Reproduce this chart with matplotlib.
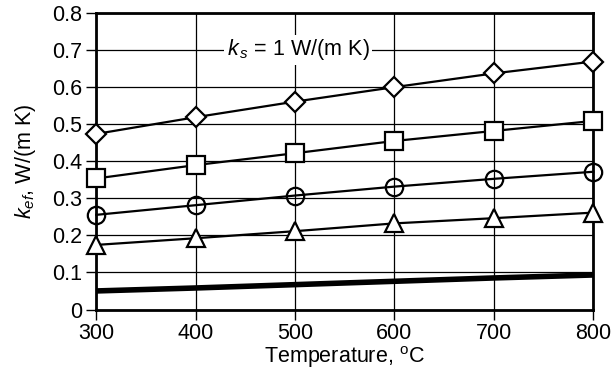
import matplotlib
matplotlib.use("Agg")
import matplotlib.pyplot as plt

plt.rcParams['font.family'] = ['Liberation Sans', 'DejaVu Sans']
plt.rcParams['mathtext.fontset'] = 'custom'
plt.rcParams['mathtext.rm'] = 'Liberation Sans'
plt.rcParams['mathtext.it'] = 'Liberation Sans:italic'

# Datos
temperatura = [300, 400, 500, 600, 700, 800]
k_rombos = [0.473, 0.518, 0.560, 0.599, 0.636, 0.668]
k_cuadrados = [0.353, 0.389, 0.421, 0.454, 0.481, 0.508]
k_circulos = [0.255, 0.281, 0.307, 0.331, 0.352, 0.371]
k_triangulos = [0.174, 0.192, 0.211, 0.232, 0.246, 0.261]
k_grueso = [0.050, 0.058, 0.067, 0.076, 0.085, 0.093]

fig = plt.figure(figsize=(6.11, 3.80), dpi=100)
ax = fig.add_axes([0.1576, 0.1855, 0.8134, 0.7816])

estilo = dict(color='black', lw=1.6, markeredgecolor='black', markeredgewidth=1.6,
              clip_on=False, zorder=3)
ax.plot(temperatura, k_rombos, marker='D', ms=10.5, markerfacecolor='white', **estilo)
ax.plot(temperatura, k_cuadrados, marker='s', ms=12.5, markerfacecolor='white', **estilo)
ax.plot(temperatura, k_circulos, marker='o', ms=12.5, markerfacecolor='none', **estilo)
ax.plot(temperatura, k_triangulos, marker='^', ms=13.5, markerfacecolor='white', **estilo)
ax.plot(temperatura, k_grueso, color='black', lw=4, solid_capstyle='butt', zorder=3)

ax.set_xlim(300, 800)
ax.set_ylim(0, 0.8)
ax.set_xticks(temperatura)
ax.set_yticks([0, 0.1, 0.2, 0.3, 0.4, 0.5, 0.6, 0.7, 0.8])
ax.set_yticklabels(['0', '0.1', '0.2', '0.3', '0.4', '0.5', '0.6', '0.7', '0.8'])
ax.grid(True, color='black', lw=0.9)
ax.set_axisbelow(True)
for s in ax.spines.values():
    s.set_linewidth(2)
ax.tick_params(direction='out', length=7, width=1, labelsize=15.5, pad=3)

ax.set_xlabel('Temperature, $^\\mathregular{o}$C', fontsize=15.5, labelpad=0)
ax.set_ylabel('$k_{ef}$, W/(m K)', fontsize=15.5, labelpad=10)

ax.text(503, 0.699, '$k_{\\,s}$ = 1 W/(m K)', fontsize=15.5, ha='center', va='center',
        bbox=dict(facecolor='white', edgecolor='none', pad=2), zorder=2.5)

fig.savefig('out.png', dpi=100)
